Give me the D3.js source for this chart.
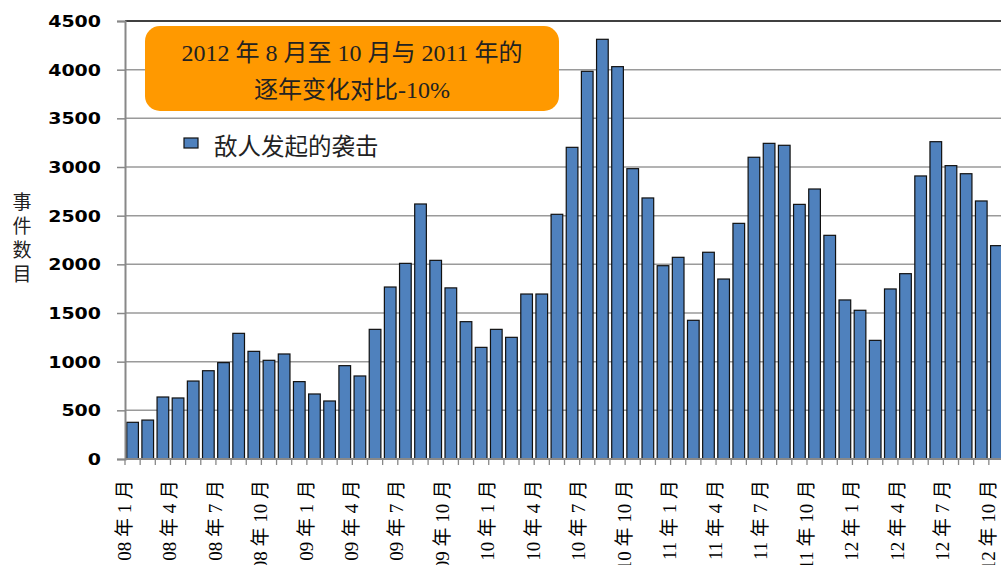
<!DOCTYPE html>
<html>
<head>
<meta charset="utf-8">
<script src="https://cdn.jsdelivr.net/npm/d3@7"></script>
<style>
  html, body { margin: 0; padding: 0; background: #fff; overflow: hidden; }
  svg { display: block; }
</style>
</head>
<body>
<svg id="chart" width="1001" height="565"></svg>
<script>
// ---- data ----
const years = ["08", "09", "10", "11", "12"];
const months = ["1","2","3","4","5","6","7","8","9","10","11","12"];
const categories = [];
years.forEach(yr => months.forEach(m => { if (!(yr === "12" && +m > 10)) categories.push(yr + " 年 " + m + " 月"); }));
const attacks = [
  377, 400, 637, 627, 801, 907, 990, 1291, 1106, 1014, 1079, 795,
  668, 596, 959, 853, 1332, 1767, 2010, 2620, 2041, 1758, 1411, 1147,
  1332, 1250, 1695, 1695, 2514, 3202, 3983, 4312, 4031, 2983, 2682, 1986,
  2072, 1425, 2124, 1849, 2421, 3100, 3243, 3223, 2616, 2774, 2298, 1634,
  1528, 1219, 1747, 1904, 2908, 3260, 3014, 2931, 2651, 2192
];
const yTicks = [0, 500, 1000, 1500, 2000, 2500, 3000, 3500, 4000, 4500];
const seriesName = "敌人发起的袭击";
const yTitle = "事件数目";
const noteLines = ["2012 年 8 月至 10 月与 2011 年的", "逐年变化对比-10%"];

// ---- layout ----
const svg = d3.select("#chart");
const mLeft = 125, mRight = 1004, mTop = 21, mBottom = 459;

const x = d3.scaleBand().domain(categories).range([mLeft, mRight]).paddingInner(0.23).paddingOuter(0.115);
const y = d3.scaleLinear().domain([0, 4500]).range([mBottom, mTop]);
const step = x.step();

// gridlines
svg.append("g").selectAll("line").data(yTicks.filter(d => d > 0 && d < 4500)).join("line")
  .attr("x1", mLeft).attr("x2", 1001)
  .attr("y1", d => y(d)).attr("y2", d => y(d))
  .attr("stroke", "#9a9a9a").attr("stroke-width", 1.5);

// top border
svg.append("line").attr("x1", mLeft).attr("x2", 1001).attr("y1", y(4500)).attr("y2", y(4500))
  .attr("stroke", "#000").attr("stroke-width", 1.3);

// bars
svg.append("g").selectAll("rect").data(attacks).join("rect")
  .attr("x", (d, i) => x(categories[i]))
  .attr("width", x.bandwidth())
  .attr("y", d => y(d))
  .attr("height", d => y(0) - y(d))
  .attr("fill", "#4F81BD")
  .attr("stroke", "#111")
  .attr("stroke-width", 1.2);

// y axis
const yAxis = d3.axisLeft(y).tickValues(yTicks).tickSize(8).tickFormat(d3.format("d"));
const gy = svg.append("g").attr("transform", `translate(${mLeft},0)`).call(yAxis);
gy.select(".domain").attr("stroke", "#888").attr("stroke-width", 2);
gy.selectAll(".tick line").attr("stroke", "#888").attr("stroke-width", 1.5);
gy.selectAll(".tick text")
  .attr("x", -24)
  .attr("dy", "0.36em")
  .attr("font-family", "DejaVu Sans, Verdana, sans-serif")
  .attr("font-weight", "bold")
  .attr("font-size", 15)
  .attr("fill", "#000")
  .attr("textLength", function(d) { return String(d).length * 13.2; })
  .attr("lengthAdjust", "spacingAndGlyphs");

// x axis line + ticks at band boundaries
svg.append("line").attr("x1", mLeft).attr("x2", 1001).attr("y1", mBottom).attr("y2", mBottom)
  .attr("stroke", "#888").attr("stroke-width", 2);
const boundaries = d3.range(categories.length + 1).map(i => mLeft + i * step);
svg.append("g").selectAll("line").data(boundaries).join("line")
  .attr("x1", d => d).attr("x2", d => d).attr("y1", mBottom).attr("y2", mBottom + 6)
  .attr("stroke", "#888").attr("stroke-width", 1.3);

// x labels every 3 months, rotated
svg.append("g").selectAll("text").data(categories.filter((c, i) => i % 3 === 0)).join("text")
  .attr("transform", c => `translate(${x(c) - x.paddingOuter() * step - 1},480) rotate(-90)`)
  .attr("text-anchor", "end")
  .attr("dy", "0.35em")
  .attr("font-family", "Liberation Serif, Noto Sans CJK SC, serif")
  .attr("font-size", 19)
  .attr("fill", "#000")
  .text(c => c);

// y title, vertical
svg.append("text")
  .attr("x", 22).attr("y", 192)
  .style("writing-mode", "vertical-rl")
  .style("letter-spacing", "5px")
  .attr("font-family", "Noto Sans CJK SC, sans-serif")
  .attr("font-size", 19)
  .attr("fill", "#222")
  .text(yTitle);

// annotation box
svg.append("rect").attr("x", 145).attr("y", 26).attr("width", 414).attr("height", 85)
  .attr("rx", 15).attr("ry", 15).attr("fill", "#FF9900");
svg.append("g").selectAll("text").data(noteLines).join("text")
  .attr("x", 352).attr("y", (d, i) => 52 + i * 37)
  .attr("dy", "0.36em")
  .attr("text-anchor", "middle")
  .attr("font-family", "Liberation Serif, Noto Sans CJK SC, serif")
  .attr("font-size", 24)
  .attr("fill", "#222")
  .text(d => d);

// legend
svg.append("rect").attr("x", 184).attr("y", 138).attr("width", 14).attr("height", 10)
  .attr("fill", "#4F81BD").attr("stroke", "#111").attr("stroke-width", 1.2);
svg.append("text").attr("x", 214).attr("y", 147).attr("dy", "0.36em")
  .attr("font-family", "Noto Sans CJK SC, sans-serif")
  .attr("font-size", 23.5)
  .attr("fill", "#222")
  .text(seriesName);
</script>
</body>
</html>
